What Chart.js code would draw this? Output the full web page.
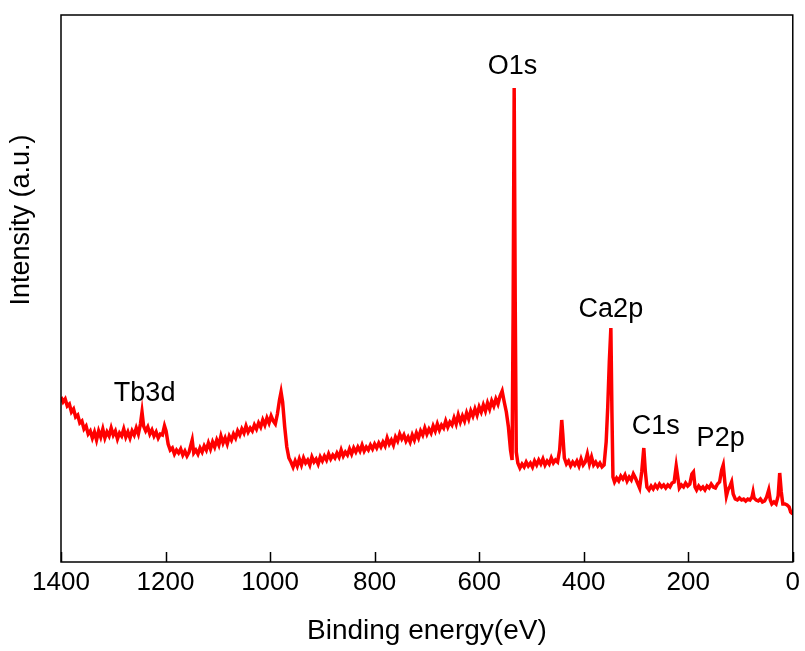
<!DOCTYPE html>
<html>
<head>
<meta charset="utf-8">
<script src="https://cdn.jsdelivr.net/npm/chart.js@4.4.1/dist/chart.umd.min.js"></script>
<style>
  html, body { margin: 0; padding: 0; background: #fff; }
  #wrap { width: 805px; height: 651px; }
</style>
</head>
<body>
<div id="wrap"><canvas id="chart"></canvas></div>
<script>
// XPS survey spectrum (intensity in arbitrary units)
var energies = [1400,1396,1392,1388,1384,1380,1376,1372,1368,1364,1360,1356,1352,1348,1344,1340,1336,1332,1328,1324,
  1320,1316,1312,1308,1304,1300,1296,1292,1288,1284,1280,1276,1272,1268,1264,1260,1256,1252,1248,1245,1242,1238,1234,1230,
  1226,1222,1218,1214,1210,1206,1202,1199,1195,1191,1187,1183,1179,1175,1171,1167,1163,1159,1155,1151,1149,1146,1142,1138,
  1134,1130,1126,1122,1118,1114,1110,1106,1102,1098,1094,1090,1086,1082,1078,1074,1070,1066,1062,1058,1054,1050,1046,1042,
  1038,1034,1030,1026,1022,1018,1014,1010,1006,1002,998,994,990,986,982,979,976,972,968,964,960,956,952,948,944,940,936,932,
  928,924,920,916,912,908,904,900,896,892,888,884,880,876,872,868,864,860,856,852,848,844,840,836,832,828,824,820,816,812,
  808,804,800,796,792,788,784,780,776,772,768,764,760,756,752,748,744,740,736,732,728,724,720,716,712,708,704,700,696,692,
  688,684,680,676,672,668,664,660,656,652,648,644,640,636,632,628,624,620,616,612,608,604,600,596,592,588,584,580,576,572,
  568,564,560,556,552,548,544,540,537,535,533,531,529,526,522,518,514,510,506,502,498,494,490,486,482,478,474,470,466,462,
  458,454,450,446,442,440,437,433,429,425,421,417,413,409,405,401,397,393,389,385,381,377,373,369,365,361,357,354,351,348,
  346,344,341,337,333,329,325,321,317,313,309,305,301,297,293,289,285,282,279,275,271,267,263,259,255,251,247,243,239,235,
  231,227,223,220,217,213,209,205,201,197,193,190,187,184,180,176,172,168,164,160,156,152,148,144,140,136,133,130,127,124,
  120,117,114,110,106,102,98,94,90,86,82,78,76,74,70,66,62,58,54,50,46,43,40,36,32,28,25,22,19,15,11,7,4,0];
var intensities = [165,160,163,156,158,150,153,145,147,139,141,133,136,128,131,124,130,122,131,125,
  133,124,130,126,134,127,131,123,129,126,133,125,130,124,131,127,134,128,138,150,136,131,135,128,
  132,126,130,124,128,127,136,131,118,112,114,108,112,109,113,107,111,106,110,118,122,109,112,108,
  114,110,116,112,119,113,120,115,122,117,126,119,124,118,126,122,128,124,131,127,133,129,136,130,
  134,131,137,133,139,135,142,137,144,139,146,141,138,148,162,170,160,135,115,104,100,95,101,96,103,97,104,99,
  102,97,105,100,103,98,105,101,106,102,108,103,107,104,109,105,112,106,110,107,113,108,114,110,115,111,117,111,115,112,
  117,113,118,114,119,115,120,116,124,118,122,117,125,121,128,123,127,121,125,120,127,122,129,124,131,127,134,128,133,129,
  136,131,138,132,137,134,141,135,140,137,144,138,147,140,146,141,149,143,151,146,153,147,155,150,157,151,159,153,161,156,
  163,158,166,171,160,150,135,112,102,250,474,260,110,99,94,98,95,100,96,99,95,101,97,102,98,103,97,101,98,104,
  99,102,100,112,142,128,104,98,101,96,100,97,101,96,103,97,100,108,98,105,97,100,96,99,95,97,120,155,200,234,
  150,85,80,84,81,86,83,87,81,85,82,88,84,79,74,90,114,90,75,72,76,73,77,74,78,75,77,74,77,75,
  79,80,96,85,74,77,75,79,76,78,88,90,75,72,76,73,75,72,76,74,78,75,74,78,80,92,97,80,66,72,
  76,80,68,63,62,64,62,63,61,63,62,65,70,64,62,61,63,60,61,65,72,62,58,60,58,66,89,70,58,58,57,55,50,48];

var xTicks = [1400, 1200, 1000, 800, 600, 400, 200, 0];

// peak labels and where they sit (energy, intensity)
var peakNames = ['O1s', 'Tb3d', 'Ca2p', 'C1s', 'P2p'];
var peakAtEnergy = [536, 1240, 348, 262, 138];
var peakAtHeight = [488, 161, 245, 128, 116];

var points = [];
for (var i = 0; i < energies.length; i++) {
  points.push({x: energies[i], y: intensities[i]});
}

var fontName = '"Liberation Sans", Arial, Helvetica, sans-serif';

var framePlugin = {
  id: 'frame',
  afterDatasetsDraw: function(chart) {
    var ctx = chart.ctx;
    var a = chart.chartArea;
    var xs = chart.scales.x;
    var ys = chart.scales.y;
    ctx.save();
    ctx.strokeStyle = '#000';
    ctx.lineWidth = 1.5;
    ctx.strokeRect(a.left, a.top, a.right - a.left, a.bottom - a.top);
    // ticks pointing inward
    ctx.beginPath();
    for (var i = 0; i < xTicks.length; i++) {
      var px = Math.round(xs.getPixelForValue(xTicks[i])) + 0.5;
      ctx.moveTo(px, a.bottom);
      ctx.lineTo(px, a.bottom - 10);
    }
    ctx.stroke();
    // peak labels
    ctx.fillStyle = '#000';
    ctx.font = '27px ' + fontName;
    ctx.textAlign = 'center';
    ctx.textBaseline = 'alphabetic';
    for (var j = 0; j < peakNames.length; j++) {
      ctx.fillText(peakNames[j], xs.getPixelForValue(peakAtEnergy[j]), ys.getPixelForValue(peakAtHeight[j]));
    }
    // y title, sits above the middle like the original
    ctx.translate(22, ys.getPixelForValue(342));
    ctx.rotate(-Math.PI / 2);
    ctx.textBaseline = 'middle';
    ctx.fillText('Intensity (a.u.)', 0, 0);
    ctx.restore();
  }
};

var ctx = document.getElementById('chart').getContext('2d');
var chart = new Chart(ctx, {
  type: 'line',
  data: {
    datasets: [{
      label: 'XPS',
      data: points,
      borderColor: '#ff0000',
      borderWidth: 3.5,
      pointRadius: 0,
      tension: 0,
      fill: false
    }]
  },
  options: {
    responsive: true,
    maintainAspectRatio: false,
    animation: false,
    layout: { padding: { top: 15, right: 8, left: 0, bottom: 0 } },
    plugins: { legend: { display: false }, tooltip: { enabled: false } },
    scales: {
      x: {
        type: 'linear',
        reverse: true,
        min: 0,
        max: 1400,
        grid: { display: false, drawTicks: false },
        border: { display: false },
        ticks: {
          stepSize: 200,
          color: '#000',
          padding: 5,
          maxRotation: 0,
          font: { family: fontName, size: 26 },
          callback: function(v) { return String(v); }
        },
        title: {
          display: true,
          text: 'Binding energy(eV)',
          color: '#000',
          padding: { top: 0, bottom: 3 },
          font: { family: fontName, size: 28 }
        },
        afterFit: function(scale) { scale.height = 89; }
      },
      y: {
        min: 0,
        max: 547,
        grid: { display: false, drawTicks: false },
        border: { display: false },
        ticks: { display: false },
        title: { display: false },
        afterFit: function(scale) { scale.width = 61; }
      }
    }
  },
  plugins: [framePlugin]
});
</script>
</body>
</html>
